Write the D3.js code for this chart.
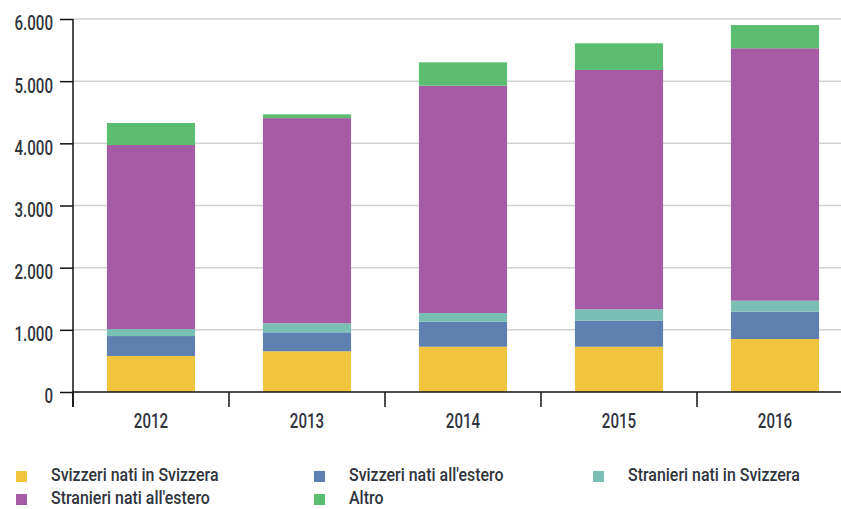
<!DOCTYPE html>
<html>
<head>
<meta charset="utf-8">
<script src="https://cdn.jsdelivr.net/npm/d3@7"></script>
<style>
  body { margin: 0; background: #fff; }
  svg text { font-family: Roboto, "DejaVu Sans", sans-serif; font-weight: 500; fill: #30353d; }
</style>
</head>
<body>
<svg id="chart" width="841" height="509"></svg>
<script>
const years = ["2012", "2013", "2014", "2015", "2016"];
const seriesNames = ["Svizzeri nati in Svizzera", "Svizzeri nati all'estero", "Stranieri nati in Svizzera", "Stranieri nati all'estero", "Altro"];
const svizzeriSvizzera = [580, 655, 729, 729, 853];
const svizzeriEstero = [320, 305, 402, 418, 439];
const stranieriSvizzera = [113, 145, 140, 183, 177];
const stranieriEstero = [2960, 3301, 3656, 3850, 4060];
const altro = [354, 60, 376, 429, 374];
const yTicks = [0, 1000, 2000, 3000, 4000, 5000, 6000];
const colors = ["#f2c43e", "#5e80b1", "#79bfb3", "#a65ca4", "#5bbd70"];

const seriesValues = [svizzeriSvizzera, svizzeriEstero, stranieriSvizzera, stranieriEstero, altro];

// build rows for d3.stack
const rows = years.map((yr, i) => {
    const r = { year: yr };
    seriesNames.forEach((s, k) => { r[s] = seriesValues[k][i]; });
    return r;
});

// squeeze text horizontally (reference uses a condensed face)
function condense(sel, sx) {
    sel.each(function () {
        const t = d3.select(this);
        const x0 = +t.attr("x") || 0;
        t.attr("x", x0 / sx).attr("transform", `scale(${sx},1)`);
    });
}

const svg = d3.select("#chart");
const margin = { left: 73, right: 853, top: 19, bottom: 392 };

const x = d3.scaleBand().domain(years).range([margin.left, margin.right]);
const y = d3.scaleLinear().domain([0, 6000]).range([margin.bottom, margin.top]);
const barW = x.bandwidth() * 0.565;

// gridlines
svg.append("g")
    .selectAll("line")
    .data(yTicks.filter(d => d > 0))
    .enter().append("line")
    .attr("x1", margin.left).attr("x2", 841)
    .attr("y1", d => y(d)).attr("y2", d => y(d))
    .style("stroke", "#d2d2d2")
    .style("stroke-width", 1.5);

// stacked bars
const stack = d3.stack().keys(seriesNames);
const layers = stack(rows);

svg.append("g")
    .selectAll("g")
    .data(layers)
    .enter().append("g")
    .style("fill", (d, i) => colors[i])
    .selectAll("rect")
    .data(d => d)
    .enter().append("rect")
    .attr("x", d => x(d.data.year) + (x.bandwidth() - barW) / 2)
    .attr("y", d => y(d[1]))
    .attr("width", barW)
    .attr("height", d => y(d[0]) - y(d[1]));

// y axis
const yAxis = svg.append("g")
    .attr("transform", `translate(${margin.left},0)`)
    .call(d3.axisLeft(y).tickValues(yTicks).tickSize(13).tickPadding(7)
        .tickFormat(d => d3.format(",")(d).replace(/,/g, ".")));
yAxis.select(".domain").remove();
yAxis.selectAll(".tick line").style("stroke", "#111").style("stroke-width", 1.5);
yAxis.selectAll(".tick text")
    .attr("dy", "0.52em")
    .style("font-size", "21px")
    .call(condense, 0.72);
svg.append("line")
    .attr("x1", margin.left).attr("x2", margin.left)
    .attr("y1", margin.top).attr("y2", margin.bottom + 15)
    .style("stroke", "#111").style("stroke-width", 1.5);

// x axis
const xAxis = svg.append("g")
    .attr("transform", `translate(0,${margin.bottom})`)
    .call(d3.axisBottom(x).tickSize(0).tickPadding(21));
xAxis.select(".domain").remove();
xAxis.selectAll(".tick text")
    .style("font-size", "21px")
    .call(condense, 0.72);
svg.append("line")
    .attr("x1", margin.left).attr("x2", 841)
    .attr("y1", margin.bottom).attr("y2", margin.bottom)
    .style("stroke", "#111").style("stroke-width", 1.5);
svg.append("g")
    .selectAll("line")
    .data(years)
    .enter().append("line")
    .attr("x1", d => x(d)).attr("x2", d => x(d))
    .attr("y1", margin.bottom).attr("y2", margin.bottom + 15)
    .style("stroke", "#111").style("stroke-width", 1.5);

// legend
const legendPos = [[16, 476], [314, 476], [593, 476], [16, 499], [314, 499]];
const legend = svg.append("g")
    .selectAll("g")
    .data(seriesNames)
    .enter().append("g")
    .attr("transform", (d, i) => `translate(${legendPos[i][0]},${legendPos[i][1]})`);
legend.append("rect")
    .attr("x", 0).attr("y", -5)
    .attr("width", 11).attr("height", 11)
    .style("fill", (d, i) => colors[i]);
legend.append("text")
    .attr("x", 35).attr("y", 5)
    .style("font-size", "19px")
    .text(d => d)
    .call(condense, 0.84);
</script>
</body>
</html>
